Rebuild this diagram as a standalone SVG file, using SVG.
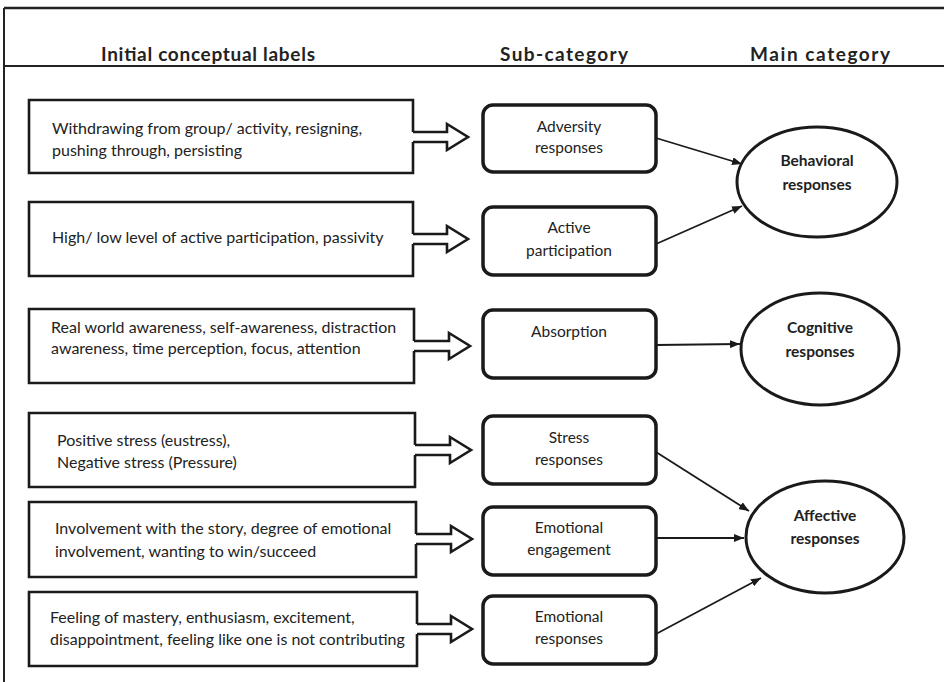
<svg xmlns="http://www.w3.org/2000/svg" width="944" height="682" viewBox="0 0 944 682">
<defs>
<marker id="ah" viewBox="0 0 10 8" refX="10" refY="4" markerWidth="10" markerHeight="8" markerUnits="userSpaceOnUse" orient="auto">
<path d="M0,0 L10,4 L0,8 Z" fill="#1a1a1a"/>
</marker>
</defs>
<style>
.frame{stroke:#222;stroke-width:2.5;fill:none}
.lbox{fill:#fff;stroke:#1a1a1a;stroke-width:2.6}
.sbox{fill:#fff;stroke:#1a1a1a;stroke-width:3.5}
.ell{fill:#fff;stroke:#1a1a1a;stroke-width:3}
.barrow{fill:#fff;stroke:#1a1a1a;stroke-width:2.6;stroke-linejoin:miter}
.conn{stroke:#1a1a1a;stroke-width:1.8;fill:none}
text{font-family:Lato,"Open Sans","Liberation Sans",sans-serif;fill:#222}
.hd{font-size:19px;font-weight:bold;text-anchor:middle}
.t{font-size:16px}
.c{font-size:15.5px;text-anchor:middle}
.b{font-size:15.5px;font-weight:bold;text-anchor:middle}
</style>
<g id="frame">
<line class="frame" x1="4" y1="8" x2="944" y2="8"/>
<line class="frame" x1="4" y1="8" x2="4" y2="682" style="stroke-width:2"/>
<line class="frame" x1="4" y1="66" x2="944" y2="66" style="stroke-width:2"/>
</g>
<g id="headers">
<text class="hd" x="208" y="61" textLength="214">Initial conceptual labels</text>
<text class="hd" x="564" y="61" textLength="128">Sub-category</text>
<text class="hd" x="820" y="61" textLength="140">Main category</text>
</g>
<g id="label1">
<path class="lbox" d="M413,132 V100 H29 V173 H413 V142"/>
<text class="t" x="52" y="134">Withdrawing from group/ activity, resigning,</text>
<text class="t" x="52" y="156">pushing through, persisting</text>
</g>
<g id="label2">
<path class="lbox" d="M413,234 V202 H29 V276 H413 V244"/>
<text class="t" x="52" y="243">High/ low level of active participation, passivity</text>
</g>
<g id="label3">
<path class="lbox" d="M414,341 V309 H29 V383 H414 V351"/>
<text class="t" x="51" y="333">Real world awareness, self-awareness, distraction</text>
<text class="t" x="51" y="354">awareness, time perception, focus, attention</text>
</g>
<g id="label4">
<path class="lbox" d="M415,445 V413 H29 V487 H415 V455"/>
<text class="t" x="57" y="446">Positive stress (eustress),</text>
<text class="t" x="57" y="468">Negative stress (Pressure)</text>
</g>
<g id="label5">
<path class="lbox" d="M416,534 V502 H29 V577 H416 V544"/>
<text class="t" x="55" y="534">Involvement with the story, degree of emotional</text>
<text class="t" x="55" y="557">involvement, wanting to win/succeed</text>
</g>
<g id="label6">
<path class="lbox" d="M417,624 V592 H29 V666 H417 V634"/>
<text class="t" x="50" y="623">Feeling of mastery, enthusiasm, excitement,</text>
<text class="t" x="50" y="645">disappointment, feeling like one is not contributing</text>
</g>
<g id="sub-adversity">
<rect class="sbox" x="483" y="105" width="173" height="67" rx="10"/>
<text class="c" x="569" y="132">Adversity</text>
<text class="c" x="569" y="153">responses</text>
</g>
<g id="sub-active">
<rect class="sbox" x="483" y="207" width="173" height="68" rx="10"/>
<text class="c" x="569" y="233">Active</text>
<text class="c" x="569" y="256">participation</text>
</g>
<g id="sub-absorption">
<rect class="sbox" x="483" y="310" width="173" height="68" rx="10"/>
<text class="c" x="569" y="337">Absorption</text>
</g>
<g id="sub-stress">
<rect class="sbox" x="483" y="416" width="173" height="68" rx="10"/>
<text class="c" x="569" y="443">Stress</text>
<text class="c" x="569" y="465">responses</text>
</g>
<g id="sub-engagement">
<rect class="sbox" x="483" y="507" width="173" height="68" rx="10"/>
<text class="c" x="569" y="533">Emotional</text>
<text class="c" x="569" y="555">engagement</text>
</g>
<g id="sub-emotional">
<rect class="sbox" x="483" y="596" width="173" height="68" rx="10"/>
<text class="c" x="569" y="622">Emotional</text>
<text class="c" x="569" y="644">responses</text>
</g>
<g id="main-behavioral">
<ellipse class="ell" cx="817" cy="182" rx="80" ry="55"/>
<text class="b" x="817" y="166">Behavioral</text>
<text class="b" x="817" y="190">responses</text>
</g>
<g id="main-cognitive">
<ellipse class="ell" cx="820" cy="349" rx="79" ry="56"/>
<text class="b" x="820" y="333">Cognitive</text>
<text class="b" x="820" y="357">responses</text>
</g>
<g id="main-affective">
<ellipse class="ell" cx="825" cy="537" rx="79" ry="56"/>
<text class="b" x="825" y="521">Affective</text>
<text class="b" x="825" y="544">responses</text>
</g>
<g id="connectors">
<path class="barrow" d="M413,132 H447 V124 L468,137 L447,150 V142 H413"/>
<path class="barrow" d="M413,234 H447 V226 L468,239 L447,252 V244 H413"/>
<path class="barrow" d="M414,341 H449 V333 L470,346 L449,359 V351 H414"/>
<path class="barrow" d="M415,445 H450 V437 L471,450 L450,463 V455 H415"/>
<path class="barrow" d="M416,534 H451 V526 L472,539 L451,552 V544 H416"/>
<path class="barrow" d="M417,624 H451 V616 L472,629 L451,642 V634 H417"/>
<line class="conn" x1="656" y1="138" x2="742" y2="164" marker-end="url(#ah)"/>
<line class="conn" x1="656" y1="244" x2="742" y2="206" marker-end="url(#ah)"/>
<line class="conn" x1="656" y1="345" x2="740" y2="344" marker-end="url(#ah)"/>
<line class="conn" x1="656" y1="452" x2="749" y2="511" marker-end="url(#ah)"/>
<line class="conn" x1="656" y1="538" x2="744" y2="538" marker-end="url(#ah)"/>
<line class="conn" x1="656" y1="634" x2="761" y2="578" marker-end="url(#ah)"/>
</g>
</svg>
